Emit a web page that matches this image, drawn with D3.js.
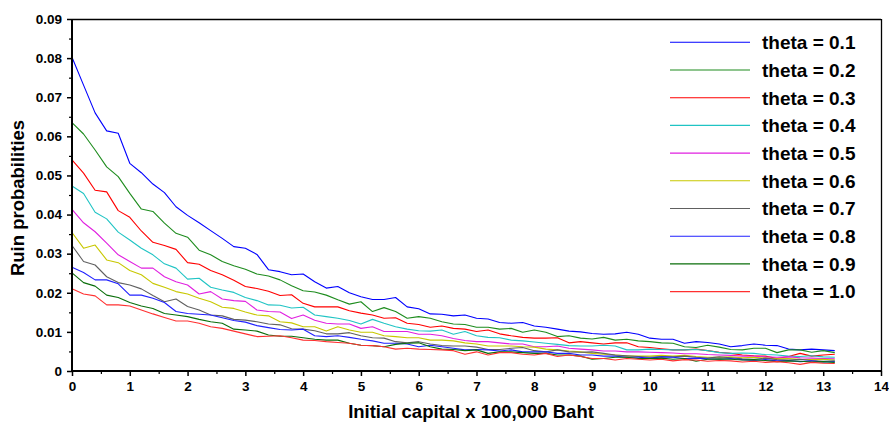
<!DOCTYPE html>
<html>
<head>
<meta charset="utf-8">
<script src="https://cdn.jsdelivr.net/npm/d3@7"></script>
<style>
  html, body { margin: 0; padding: 0; background: #ffffff; }
  svg { display: block; }
  text { font-family: "Liberation Sans", Arial, Helvetica, sans-serif; font-weight: bold; fill: #000; }
</style>
</head>
<body>
<svg id="chart" width="889" height="427"></svg>
<script>
// ---------------- DATA ----------------
const capital = [0,0.2,0.4,0.6,0.8,1,1.2,1.4,1.6,1.8,2,2.2,2.4,2.6,2.8,3,3.2,3.4,3.6,3.8,
  4,4.2,4.4,4.6,4.8,5,5.2,5.4,5.6,5.8,6,6.2,6.4,6.6,6.8,7,7.2,7.4,7.6,7.8,
  8,8.2,8.4,8.6,8.8,9,9.2,9.4,9.6,9.8,10,10.2,10.4,10.6,10.8,11,11.2,11.4,11.6,11.8,
  12,12.2,12.4,12.6,12.8,13,13.2];

const seriesNames = ["theta = 0.1","theta = 0.2","theta = 0.3","theta = 0.4","theta = 0.5",
  "theta = 0.6","theta = 0.7","theta = 0.8","theta = 0.9","theta = 1.0"];

const seriesColors = ["#0000ff","#1e8c1e","#ff0000","#20c4c4","#e020e0",
  "#c8c800","#606060","#2020ff","#0a6e0a","#ff3030"];

const theta01 = [.0802,.0731,.0660,.0614,.0608,.0531,.0507,.0478,.0456,.0420,.0398,.0379,.0359,.0339,.0318,.0314,.0298,.0259,.0254,.0246,
  .0248,.0228,.0212,.0216,.0200,.0190,.0183,.0183,.0188,.0164,.0159,.0146,.0145,.0141,.0143,.0135,.0133,.0124,.0122,.0124,
  .0115,.0112,.0107,.0102,.0100,.0096,.0094,.0095,.0099,.0094,.0084,.0081,.0081,.0071,.0075,.0073,.0069,.0062,.0065,.0069,
  .0066,.0065,.0056,.0054,.0056,.0054,.0052];
const theta02 = [.0635,.0606,.0565,.0522,.0497,.0454,.0414,.0408,.0378,.0352,.0342,.0309,.0297,.0280,.0269,.0260,.0248,.0243,.0233,.0218,
  .0205,.0202,.0194,.0182,.0171,.0177,.0152,.0162,.0152,.0135,.0139,.0135,.0126,.0120,.0119,.0112,.0112,.0107,.0109,.0099,
  .0105,.0099,.0088,.0090,.0084,.0082,.0086,.0079,.0081,.0077,.0075,.0072,.0071,.0062,.0060,.0066,.0061,.0055,.0054,.0058,
  .0058,.0047,.0054,.0054,.0048,.0052,.0047];
const theta03 = [.0540,.0506,.0462,.0458,.0410,.0393,.0358,.0329,.0321,.0311,.0277,.0273,.0257,.0246,.0232,.0216,.0211,.0204,.0193,.0195,
  .0173,.0164,.0164,.0164,.0154,.0148,.0143,.0135,.0136,.0122,.0119,.0112,.0115,.0109,.0107,.0101,.0105,.0095,.0090,.0086,
  .0084,.0084,.0085,.0072,.0075,.0072,.0069,.0072,.0072,.0062,.0060,.0057,.0054,.0054,.0056,.0052,.0048,.0045,.0041,.0039,
  .0038,.0032,.0037,.0045,.0038,.0041,.0043];
const theta04 = [.0473,.0454,.0406,.0389,.0355,.0335,.0314,.0297,.0274,.0263,.0235,.0237,.0214,.0207,.0201,.0188,.0180,.0169,.0168,.0161,
  .0163,.0143,.0139,.0135,.0129,.0120,.0132,.0122,.0113,.0107,.0103,.0102,.0105,.0094,.0101,.0090,.0086,.0085,.0079,.0077,
  .0074,.0071,.0068,.0065,.0064,.0064,.0066,.0064,.0054,.0054,.0056,.0055,.0054,.0054,.0055,.0052,.0047,.0045,.0046,.0045,
  .0042,.0041,.0038,.0037,.0039,.0036,.0035];
const theta05 = [.0413,.0379,.0356,.0327,.0297,.0280,.0263,.0263,.0241,.0228,.0220,.0197,.0203,.0184,.0180,.0178,.0156,.0152,.0151,.0134,
  .0143,.0130,.0122,.0120,.0120,.0109,.0113,.0101,.0101,.0101,.0094,.0094,.0090,.0083,.0078,.0075,.0075,.0072,.0069,.0069,
  .0062,.0062,.0064,.0058,.0056,.0054,.0051,.0051,.0049,.0049,.0048,.0047,.0046,.0044,.0044,.0042,.0041,.0040,.0038,.0038,
  .0036,.0035,.0036,.0034,.0033,.0032,.0031];
const theta06 = [.0354,.0314,.0322,.0284,.0277,.0257,.0246,.0224,.0214,.0203,.0197,.0186,.0177,.0163,.0160,.0151,.0143,.0141,.0126,.0123,
  .0113,.0113,.0102,.0113,.0105,.0099,.0099,.0090,.0088,.0085,.0085,.0079,.0079,.0077,.0072,.0069,.0064,.0064,.0064,.0062,
  .0061,.0056,.0054,.0051,.0049,.0045,.0043,.0041,.0038,.0038,.0038,.0040,.0038,.0040,.0037,.0035,.0035,.0036,.0034,.0035,
  .0033,.0031,.0032,.0030,.0029,.0030,.0028];
const theta07 = [.0321,.0280,.0271,.0241,.0226,.0220,.0210,.0193,.0177,.0184,.0165,.0156,.0143,.0141,.0132,.0130,.0126,.0120,.0118,.0108,
  .0107,.0103,.0095,.0095,.0098,.0090,.0085,.0084,.0075,.0072,.0075,.0069,.0065,.0064,.0064,.0061,.0055,.0055,.0058,.0060,
  .0052,.0049,.0054,.0049,.0048,.0049,.0045,.0041,.0039,.0037,.0035,.0037,.0036,.0038,.0035,.0033,.0036,.0034,.0031,.0030,
  .0033,.0029,.0028,.0030,.0027,.0025,.0026];
const theta08 = [.0265,.0252,.0233,.0233,.0223,.0194,.0194,.0186,.0175,.0152,.0147,.0145,.0143,.0136,.0129,.0125,.0116,.0111,.0106,.0105,
  .0107,.0090,.0088,.0090,.0086,.0081,.0077,.0071,.0071,.0069,.0062,.0066,.0062,.0058,.0054,.0055,.0054,.0051,.0054,.0049,
  .0049,.0049,.0045,.0045,.0041,.0041,.0038,.0038,.0035,.0035,.0033,.0036,.0035,.0032,.0033,.0031,.0030,.0032,.0029,.0027,
  .0029,.0026,.0027,.0024,.0026,.0023,.0024];
const theta09 = [.0251,.0226,.0217,.0194,.0188,.0175,.0166,.0160,.0147,.0143,.0139,.0132,.0126,.0122,.0107,.0105,.0102,.0092,.0089,.0089,
  .0085,.0081,.0079,.0079,.0071,.0066,.0065,.0062,.0068,.0071,.0072,.0062,.0056,.0055,.0052,.0054,.0045,.0049,.0049,.0047,
  .0045,.0045,.0041,.0041,.0038,.0030,.0032,.0035,.0035,.0032,.0032,.0033,.0030,.0032,.0025,.0030,.0031,.0030,.0028,.0029,
  .0027,.0024,.0026,.0025,.0023,.0024,.0022];
const theta10 = [.0210,.0197,.0192,.0169,.0169,.0166,.0156,.0146,.0137,.0128,.0128,.0122,.0113,.0109,.0102,.0095,.0088,.0089,.0090,.0085,
  .0079,.0078,.0075,.0073,.0071,.0066,.0065,.0062,.0056,.0058,.0056,.0055,.0054,.0052,.0043,.0049,.0041,.0047,.0047,.0043,
  .0041,.0045,.0037,.0041,.0037,.0032,.0032,.0028,.0032,.0030,.0028,.0030,.0026,.0029,.0028,.0025,.0027,.0026,.0023,.0025,
  .0022,.0024,.0021,.0017,.0022,.0020,.0019];

const seriesValues = [theta01,theta02,theta03,theta04,theta05,theta06,theta07,theta08,theta09,theta10];

const xMajorTicks = [0,1,2,3,4,5,6,7,8,9,10,11,12,13,14];
const yMajorTicks = [0,0.01,0.02,0.03,0.04,0.05,0.06,0.07,0.08,0.09];
const yTickLabels = ["0","0.01","0.02","0.03","0.04","0.05","0.06","0.07","0.08","0.09"];

// ---------------- CHART ----------------
const svg = d3.select("#chart");
const L = 72, R = 881, T = 19, B = 371;

const x = d3.scaleLinear().domain([0, 14]).range([L, R]);
const y = d3.scaleLinear().domain([0, 0.09]).range([B, T]);

// frame (top & right)
svg.append("line").attr("x1", L).attr("x2", R).attr("y1", T + 0.5).attr("y2", T + 0.5)
  .attr("stroke", "#000").attr("stroke-width", 1.3);
svg.append("line").attr("x1", R + 0.5).attr("x2", R + 0.5).attr("y1", T).attr("y2", B)
  .attr("stroke", "#000").attr("stroke-width", 1.3);

// series lines
const line = d3.line().x((d, i) => x(capital[i])).y(d => y(d));
const gLines = svg.append("g");
seriesValues.forEach((vals, k) => {
  gLines.append("path").datum(vals)
    .attr("d", line)
    .attr("fill", "none")
    .attr("stroke", seriesColors[k])
    .attr("stroke-width", 1.1)
    .attr("stroke-linejoin", "round");
});

// x axis
const xMinor = d3.range(0, 14, 0.5).filter(v => v % 1 !== 0);
const xAxis = d3.axisBottom(x).tickValues(xMajorTicks).tickFormat(d3.format("d")).tickSize(5).tickPadding(5);
const gx = svg.append("g").attr("transform", `translate(0,${B})`).call(xAxis);
gx.select(".domain").attr("stroke-width", 2).attr("d", `M${L},0H${R + 1}`);
gx.selectAll(".tick line").attr("stroke-width", 1.5);
gx.selectAll(".tick text").style("font-size", "13.5px").style("font-weight", "bold")
  .style("font-family", '"Liberation Sans", Arial, sans-serif');
svg.append("g").attr("transform", `translate(0,${B})`).call(
  d3.axisBottom(x).tickValues(xMinor).tickFormat("").tickSize(3)
).call(g => g.select(".domain").remove())
 .call(g => g.selectAll(".tick line").attr("stroke-width", 1.2));

// y axis
const yMinor = [0.005,0.015,0.025,0.035,0.045,0.055,0.065,0.075,0.085];
const yAxis = d3.axisLeft(y).tickValues(yMajorTicks).tickFormat((d, i) => yTickLabels[i]).tickSize(5).tickPadding(5);
const gy = svg.append("g").attr("transform", `translate(${L},0)`).call(yAxis);
gy.select(".domain").attr("stroke-width", 2).attr("d", `M0,${B + 1}V${T}`);
gy.selectAll(".tick line").attr("stroke-width", 1.5);
gy.selectAll(".tick text").style("font-size", "13.5px").style("font-weight", "bold")
  .style("font-family", '"Liberation Sans", Arial, sans-serif');
svg.append("g").attr("transform", `translate(${L},0)`).call(
  d3.axisLeft(y).tickValues(yMinor).tickFormat("").tickSize(3)
).call(g => g.select(".domain").remove())
 .call(g => g.selectAll(".tick line").attr("stroke-width", 1.2));

// axis titles
svg.append("text").attr("x", (348 + 594) / 2).attr("y", 418)
  .attr("text-anchor", "middle").style("font-size", "18.5px")
  .text("Initial capital x 100,000 Baht");
svg.append("text").attr("transform", `translate(24,${(120 + 276) / 2}) rotate(-90)`)
  .attr("text-anchor", "middle").style("font-size", "18.5px")
  .text("Ruin probabilities");

// legend
const legend = svg.append("g");
seriesNames.forEach((name, k) => {
  const ly = 42.3 + k * 27.7;
  legend.append("line").attr("x1", 670).attr("x2", 750).attr("y1", ly).attr("y2", ly)
    .attr("stroke", seriesColors[k]).attr("stroke-width", 1.1);
  legend.append("text").attr("x", 762).attr("y", ly).attr("dy", "0.36em")
    .style("font-size", "19px").text(name);
});
</script>
</body>
</html>
